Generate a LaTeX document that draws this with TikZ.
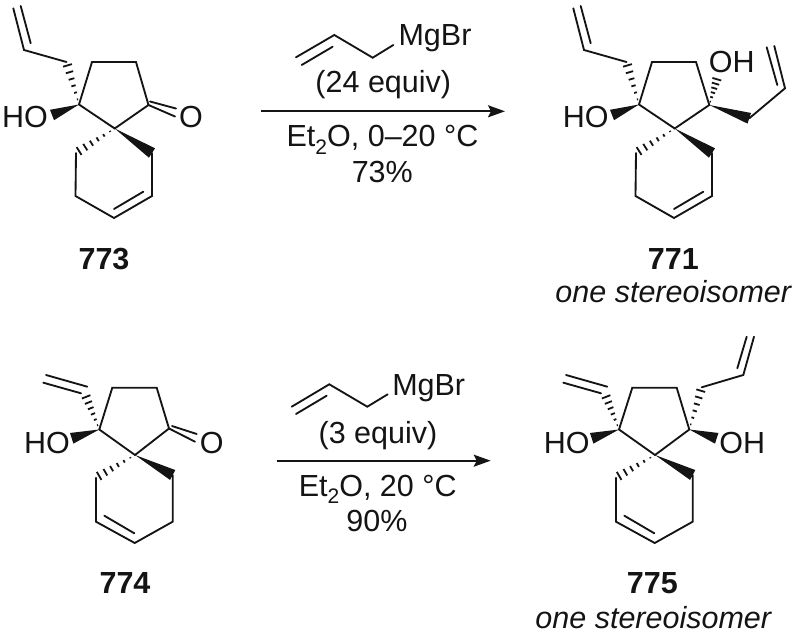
\documentclass[tikz,border=0pt]{standalone}
\usepackage{fontspec}
\setmainfont{Liberation Sans}
\usetikzlibrary{calc,arrows.meta}
\definecolor{ink}{gray}{0.08}
\newcommand{\wedgebond}[2]{\fill[ink] (#1) -- ($(#2)!5.6pt!90:(#1)$) -- ($(#2)!5.6pt!-90:(#1)$) -- cycle;}
\newcommand{\hashbond}[2]{\foreach \hpos in {0.12,0.28,0.44,0.60,0.76,0.92}{%
  \coordinate (hm) at ($(#1)!\hpos!(#2)$);
  \draw[hashline] ($(hm)!{\hpos*5pt}!90:(#2)$) -- ($(hm)!{\hpos*5pt}!-90:(#2)$);}}
\tikzset{
  x=1pt,y=-1pt,
  bond/.style={draw=ink,line width=1.85pt,line join=miter,line cap=round},
  hashline/.style={draw=ink,line width=1.8pt},
  atomlabel/.style={font=\fontsize{30.5}{30.5}\selectfont,text=ink,inner sep=0pt,anchor=base},
  condlabel/.style={font=\fontsize{30.5}{30.5}\selectfont,text=ink,inner sep=0pt,anchor=base},
  numlabel/.style={font=\fontsize{30.5}{30.5}\selectfont\bfseries,text=ink,inner sep=0pt,anchor=base},
  notelabel/.style={font=\fontsize{30.5}{30.5}\selectfont\itshape,text=ink,inner sep=0pt,anchor=base},
  rxnarrow/.style={draw=ink,line width=1.9pt,-{Stealth[length=17pt,width=12pt,inset=3pt]}}
}
\newcommand{\etsub}{Et\raisebox{-0.24em}{\fontsize{21}{21}\selectfont 2}O}
\begin{document}
\begin{tikzpicture}
\useasboundingbox (0,0) rectangle (800,636);
% --- 773 ---
\coordinate (a1) at (13.3,8.3); \coordinate (a2) at (24,50); \coordinate (a3) at (66.5,62);
\coordinate (a4) at (79,104.5); \coordinate (a5) at (92,62); \coordinate (a6) at (136,62);
\coordinate (a7) at (148.5,105); \coordinate (a8) at (114.7,128.5); \coordinate (a9) at (76,153);
\coordinate (a10) at (75.5,196); \coordinate (a11) at (114,218); \coordinate (a12) at (152,196);
\coordinate (a13) at (152,153); \coordinate (a14) at (52,115);
\coordinate (a1b) at (20.7,6); \coordinate (a2b) at (30.7,43.3);
\coordinate (a7o1) at (175,116.5); \coordinate (a7o2) at (150,101.5); \coordinate (a7o3) at (176,108.5);
\coordinate (a11b) at (114,209); \coordinate (a12b) at (143.3,191.7);
\draw[bond] (a1) -- (a2) -- (a3);
\draw[bond] (a1b) -- (a2b);
\draw[bond] (a4) -- (a5) -- (a6) -- (a7) -- (a8) -- cycle;
\draw[bond] (a7) -- (a7o1);
\draw[bond] (a7o2) -- (a7o3);
\draw[bond] (a9) -- (a10) -- (a11) -- (a12) -- (a13);
\draw[bond] (a11b) -- (a12b);
\hashbond{a4}{a3}
\hashbond{a8}{a9}
\wedgebond{a4}{a14}
\wedgebond{a8}{a13}
\node[atomlabel] (hoa) at (25,127.7) {HO};
\node[atomlabel] (oa) at (191,127.7) {O};
\node[numlabel] (na) at (104,269.3) {773};
% --- 771 ---
\coordinate (b1) at (573.3,8.3); \coordinate (b2) at (584,50); \coordinate (b3) at (626.5,62);
\coordinate (b4) at (639,104.5); \coordinate (b5) at (652,62); \coordinate (b6) at (696,62);
\coordinate (b7) at (709.3,105); \coordinate (b8) at (674.7,128.5); \coordinate (b9) at (636,153);
\coordinate (b10) at (635.5,196); \coordinate (b11) at (674,218); \coordinate (b12) at (712,196);
\coordinate (b13) at (712,153); \coordinate (b14) at (612,115);
\coordinate (b1b) at (580.7,6); \coordinate (b2b) at (590.7,43.3);
\coordinate (b11b) at (674,209); \coordinate (b12b) at (703.3,191.7);
\coordinate (b15) at (717.5,77); \coordinate (b16) at (749.3,118.3); \coordinate (b17) at (785,88.3);
\coordinate (b18) at (774.3,46); \coordinate (b19) at (766.7,47.3); \coordinate (b20) at (777.3,85);
\draw[bond] (b1) -- (b2) -- (b3);
\draw[bond] (b1b) -- (b2b);
\draw[bond] (b4) -- (b5) -- (b6) -- (b7) -- (b8) -- cycle;
\draw[bond] (b9) -- (b10) -- (b11) -- (b12) -- (b13);
\draw[bond] (b11b) -- (b12b);
\draw[bond] (b16) -- (b17) -- (b18);
\draw[bond] (b19) -- (b20);
\hashbond{b4}{b3}
\hashbond{b8}{b9}
\hashbond{b7}{b15}
\wedgebond{b4}{b14}
\wedgebond{b8}{b13}
\wedgebond{b7}{b16}
\node[atomlabel] (hob) at (585.8,127.7) {HO};
\node[atomlabel] (ohb) at (731.7,72.7) {OH};
\node[numlabel] (nb) at (673.3,269.3) {771};
\node[notelabel] (sb) at (673.3,302.7) {one stereoisomer};
% --- 774 ---
\coordinate (c1) at (43.3,382.7); \coordinate (c2) at (81,393.3); \coordinate (c1b) at (46,375); \coordinate (c2b) at (87.3,386.7);
\coordinate (c3) at (85,394);
\coordinate (c4) at (99.3,429.5); \coordinate (c5) at (112.3,387.7); \coordinate (c6) at (156.7,387.7);
\coordinate (c7) at (169,428.5); \coordinate (c8) at (135,455); \coordinate (c9) at (96,477.7);
\coordinate (c10) at (96,521.7); \coordinate (c11) at (134.7,543); \coordinate (c12) at (172.7,521.7);
\coordinate (c13) at (172.7,475); \coordinate (c14) at (71.7,438.3);
\coordinate (c7o1) at (195,441.7); \coordinate (c7o2) at (172,426); \coordinate (c7o3) at (196.7,434);
\coordinate (c10b) at (104.3,515.7); \coordinate (c11b) at (134.3,533.3);
\draw[bond] (c1) -- (c2);
\draw[bond] (c1b) -- (c2b);
\draw[bond] (c4) -- (c5) -- (c6) -- (c7) -- (c8) -- cycle;
\draw[bond] (c7) -- (c7o1);
\draw[bond] (c7o2) -- (c7o3);
\draw[bond] (c9) -- (c10) -- (c11) -- (c12) -- (c13);
\draw[bond] (c10b) -- (c11b);
\hashbond{c4}{c3}
\hashbond{c8}{c9}
\wedgebond{c4}{c14}
\wedgebond{c8}{c13}
\node[atomlabel] (hoc) at (47,453.3) {HO};
\node[atomlabel] (oc) at (211.7,453.3) {O};
\node[numlabel] (nc) at (125,593.3) {774};
% --- 775 ---
\coordinate (d1) at (563.3,382.7); \coordinate (d2) at (601,393.3); \coordinate (d1b) at (566,375); \coordinate (d2b) at (607.3,386.7);
\coordinate (d3) at (605,394);
\coordinate (d4) at (619,429.5); \coordinate (d5) at (632.3,387.7); \coordinate (d6) at (676.7,387.7);
\coordinate (d7) at (689.3,429.5); \coordinate (d8) at (655,455); \coordinate (d9) at (616,477.7);
\coordinate (d10) at (616,521.7); \coordinate (d11) at (654.7,543); \coordinate (d12) at (692.7,521.7);
\coordinate (d13) at (692.7,475); \coordinate (d14) at (591.7,438.3); \coordinate (d15) at (716.7,438.3);
\coordinate (d10b) at (624.3,515.7); \coordinate (d11b) at (654.3,533.3);
\coordinate (d16) at (701.7,387.3); \coordinate (d17) at (743.3,375); \coordinate (d18) at (754,336.7);
\coordinate (d19) at (737.3,368.3); \coordinate (d20) at (746.7,336.7);
\draw[bond] (d1) -- (d2);
\draw[bond] (d1b) -- (d2b);
\draw[bond] (d4) -- (d5) -- (d6) -- (d7) -- (d8) -- cycle;
\draw[bond] (d9) -- (d10) -- (d11) -- (d12) -- (d13);
\draw[bond] (d10b) -- (d11b);
\draw[bond] (d16) -- (d17) -- (d18);
\draw[bond] (d19) -- (d20);
\hashbond{d4}{d3}
\hashbond{d8}{d9}
\hashbond{d7}{d16}
\wedgebond{d4}{d14}
\wedgebond{d8}{d13}
\wedgebond{d7}{d15}
\node[atomlabel] (hod) at (566.7,453.3) {HO};
\node[atomlabel] (ohd) at (742.3,453.3) {OH};
\node[numlabel] (nd) at (652.3,593.3) {775};
\node[notelabel] (sd) at (653.3,628.3) {one stereoisomer};
% --- top reaction ---
\coordinate (e1) at (296,57.3); \coordinate (e2) at (334.3,35); \coordinate (e3) at (372.7,57.7); \coordinate (e4) at (393.3,45);
\coordinate (e1b) at (301.7,65); \coordinate (e2b) at (332.7,46.7);
\draw[bond] (e1) -- (e2) -- (e3) -- (e4);
\draw[bond] (e1b) -- (e2b);
\coordinate (ar1) at (260.7,111.3); \coordinate (ar2) at (505,111.3);
\draw[rxnarrow] (ar1) -- (ar2);
\node[condlabel] (mga) at (435,46) {MgBr};
\node[condlabel] (eqa) at (383.3,92.7) {(24 equiv)};
\node[condlabel] (eta) at (382.5,146.7) {\etsub, 0–20 °C};
\node[condlabel] (ya) at (382.3,182.7) {73\%};
% --- bottom reaction ---
\coordinate (f1) at (291.7,406.7); \coordinate (f2) at (329.3,384.3); \coordinate (f3) at (367.3,406.7); \coordinate (f4) at (387.7,394.3);
\coordinate (f1b) at (296,414); \coordinate (f2b) at (326.7,395.7);
\draw[bond] (f1) -- (f2) -- (f3) -- (f4);
\draw[bond] (f1b) -- (f2b);
\coordinate (br1) at (276.7,460.7); \coordinate (br2) at (490.7,460.7);
\draw[rxnarrow] (br1) -- (br2);
\node[condlabel] (mgb) at (428.7,395) {MgBr};
\node[condlabel] (eqb) at (378,443.3) {(3 equiv)};
\node[condlabel] (etb) at (377.7,496) {\etsub, 20 °C};
\node[condlabel] (yb) at (377,531) {90\%};
\end{tikzpicture}
\end{document}
